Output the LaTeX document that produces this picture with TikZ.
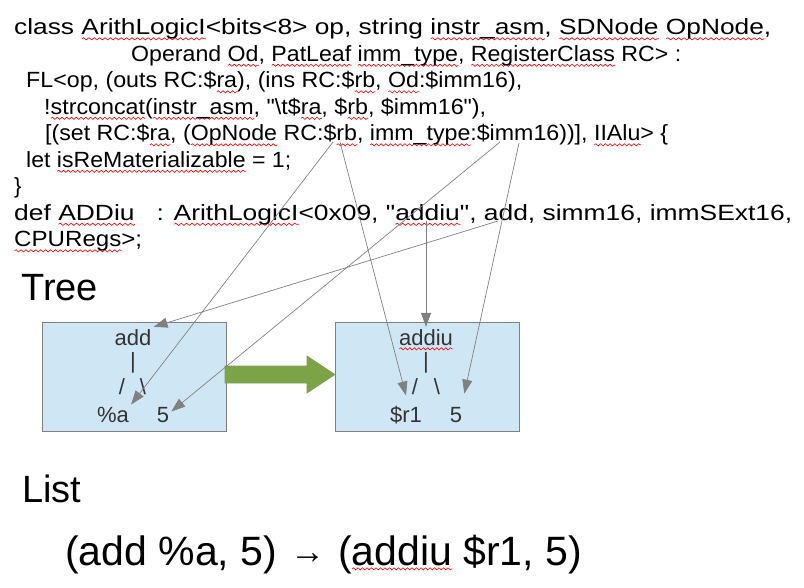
\documentclass[tikz,border=0pt]{standalone}
\usepackage{graphicx}
\usepackage{fontspec}
\setmainfont{Liberation Sans}[Ligatures=TeXOff]
\usetikzlibrary{arrows.meta,decorations.pathmorphing}
\definecolor{boxfill}{RGB}{207,231,245}
\definecolor{boxline}{RGB}{128,128,128}
\definecolor{boxtext}{RGB}{51,51,51}
\definecolor{ptrgray}{RGB}{128,128,128}
\definecolor{stepgreen}{RGB}{124,164,70}
\newsavebox\wavebox
\newcommand\redwave[1]{\sbox\wavebox{#1}\rlap{\tikz[x=1pt,y=1pt,baseline=0pt]\draw[red,line width=0.6pt,decorate,decoration={snake,amplitude=1.1pt,segment length=4.5pt}] (0,-3.8) -- (\the\wd\wavebox,-3.8);}\usebox\wavebox}
\newcommand\codeline[2]{\resizebox{#1}{\height}{#2}}
\tikzset{
  code/.style={anchor=base west, inner sep=0pt, font=\fontsize{22}{26}\selectfont},
  head/.style={anchor=base west, inner sep=0pt, font=\fontsize{38}{44}\selectfont},
  tbox/.style={draw=boxline, fill=boxfill, line width=0.8pt, minimum width=184pt, minimum height=109pt},
  leaf/.style={anchor=base, inner sep=2pt, text=boxtext, font=\fontsize{22}{26}\selectfont},
  ptr/.style={draw=ptrgray, line width=0.7pt, -{Triangle[length=14pt,width=10pt]}}
}
\begin{document}
\begin{tikzpicture}[x=1pt,y=-1pt]
\useasboundingbox (0,0) rectangle (804,588);
% source text
\node[code] (code1) at (14,35) {\codeline{757pt}{class \redwave{ArithLogicI}<bits<8> op, string \redwave{instr\_asm}, \redwave{SDNode} \redwave{OpNode},}};
\node[code] (code2) at (131,61.5) {\codeline{550pt}{Operand \redwave{Od}, \redwave{PatLeaf} \redwave{imm\_type}, \redwave{RegisterClass} RC> :}};
\node[code] (code3) at (26,88) {\codeline{496pt}{FL<op, (outs RC:\$\redwave{ra}), (ins RC:\$\redwave{rb}, \redwave{Od}:\$imm16),}};
\node[code] (code4) at (44,114.5) {\codeline{442pt}{!\redwave{strconcat}(\redwave{instr\_asm}, "\textbackslash t\$\redwave{ra}, \$\redwave{rb}, \$imm16"),}};
\node[code] (code5) at (45,141) {\codeline{623pt}{[(set RC:\$\redwave{ra}, (\redwave{OpNode} RC:\$\redwave{rb}, \redwave{imm\_type}:\$imm16))], \redwave{IIAlu}> \{}};
\node[code] (code6) at (26,167.5) {\codeline{265pt}{let \redwave{isReMaterializable} = 1;}};
\node[code] (code7) at (14,194) {\}};
\node[code] (code8) at (14,220.5) {\codeline{778pt}{def \redwave{ADDiu}~~ : \redwave{ArithLogicI}<0x09, "\redwave{addiu}", add, simm16, immSExt16,}};
\node[code] (code9) at (14,247) {\codeline{128pt}{\redwave{CPURegs}>;}};
\coordinate (rbA) at (333,142);
\coordinate (rbB) at (340,142);
\coordinate (immA) at (500,142);
\coordinate (immB) at (519,143);
\coordinate (addSrc) at (498,221);
\coordinate (addiuSrc) at (426,221);
% tree
\node[head] (tree) at (21,301) {Tree};
\node[tbox] (lbox) at (134,376.5) {};
\node[tbox] (rbox) at (427,376.5) {};
\node[leaf] (opL) at (133,345) {add};
\node[leaf] (barL) at (133,369) {|};
\node[leaf] (slL) at (122,395) {/};
\node[leaf] (bsL) at (143,395) {\textbackslash};
\node[leaf] (varL) at (113,422) {\%a};
\node[leaf] (fiveL) at (163,422) {5};
\node[leaf] (opR) at (426,345) {\redwave{addiu}};
\node[leaf] (barR) at (426,369) {|};
\node[leaf] (slR) at (415,395) {/};
\node[leaf] (bsR) at (437,395) {\textbackslash};
\node[leaf] (regR) at (406,422) {\$r1};
\node[leaf] (fiveR) at (456,422) {5};
\filldraw[fill=stepgreen, draw=stepgreen!80!gray, line width=0.6pt]
  (225,366) -- (307,366) -- (307,356) -- (335,374.5) -- (307,393) -- (307,383) -- (225,383) -- cycle;
% pointers
\draw[ptr] (rbA) -- (varL.north east);
\draw[ptr] (rbB) -- ([yshift=8pt]regR.north);
\draw[ptr] (immA) -- (fiveL.20);
\draw[ptr] (immB) -- ([yshift=11pt]fiveR.north east);
\draw[ptr] (addSrc) -- (opL.north east);
\draw[ptr] (addiuSrc) -- (opR.north);
% list
\node[head] (list) at (22,502) {List};
\node[head, font=\fontsize{41}{46}\selectfont] (flat) at (65,565) {(add \%a, 5)\hspace{13pt}\raisebox{1.5pt}{\fontsize{35}{36}\selectfont →}\hspace{13pt}(\redwave{addiu} \$r1, 5)};
\end{tikzpicture}
\end{document}
